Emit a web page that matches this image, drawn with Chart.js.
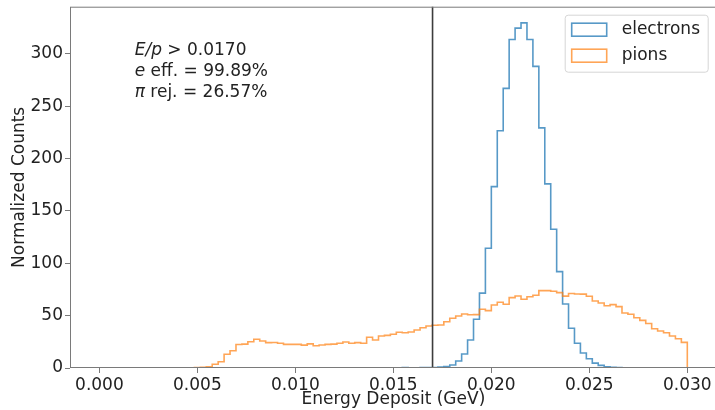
<!DOCTYPE html>
<html>
<head>
<meta charset="utf-8">
<script src="https://cdn.jsdelivr.net/npm/chart.js@4.4.1/dist/chart.umd.min.js"></script>
<style>
  html, body { margin: 0; padding: 0; background: #fff; overflow: hidden; }
</style>
</head>
<body>
<canvas id="hist" width="720" height="410"></canvas>
<script>
// binning: equal-width bins between 0 and 0.03 GeV
const binLow = 0.0;
const binHigh = 0.03;
const nBins = 99;

// normalized counts per bin
const electrons = [
  0, 0, 0, 0, 0, 0, 0, 0, 0, 0,
  0, 0, 0, 0, 0, 0, 0, 0, 0, 0,
  0, 0, 0, 0, 0, 0, 0, 0, 0, 0,
  0, 0, 0, 0, 0, 0, 0, 0, 0, 0,
  0, 0, 0.3, 0.3, 0, 0, 0, 0.3, 0, 0,
  0, 0.5, 0, 0.3, 0.5, 0.5, 0.5, 0.8, 1.3, 2.9,
  6.7, 13.4, 26.8, 46.5, 71.5, 114.4, 173.2, 226.6, 267.0, 313.7,
  324.5, 329.6, 313.7, 288.0, 229.3, 175.8, 132.5, 92.0, 61.1, 38.0,
  23.6, 14.3, 8.9, 4.7, 2.5, 1.2, 0.6, 0.4, 0.3, 0.2,
  0.2, 0.1, 0.1, 0, 0, 0, 0, 0, 0
];
const pions = [
  0, 0, 0, 0, 0, 0, 0, 0, 0, 0,
  0, 0, 0, 0, 0.2, 0.3, 0.4, 0.6, 1.2, 3.6,
  6.0, 13.2, 16.5, 22.4, 22.8, 25.1, 27.4, 25.8, 24.2, 24.4,
  23.6, 22.6, 22.6, 22.6, 21.8, 23.0, 21.2, 22.0, 22.6, 22.8,
  23.6, 24.8, 23.6, 24.2, 23.6, 29.3, 26.8, 30.6, 31.2, 32.2,
  34.1, 33.7, 34.4, 36.3, 38.5, 40.1, 40.8, 41.1, 44.2, 47.5,
  49.7, 51.6, 50.8, 51.0, 56.1, 54.8, 60.2, 62.8, 60.9, 67.2,
  68.8, 65.6, 68.1, 69.5, 73.9, 73.9, 73.3, 72.0, 68.6, 71.2,
  70.7, 70.5, 68.5, 64.0, 62.0, 59.5, 60.5, 58.6, 52.5, 51.3,
  48.0, 45.5, 42.5, 37.5, 35.3, 33.7, 30.6, 28.0, 24.5
];

const xTicks = [0.000, 0.005, 0.010, 0.015, 0.020, 0.025, 0.030];
const yTicks = [0, 50, 100, 150, 200, 250, 300];

// E/p cut and its summary (segments: [text, italic])
const cutValue = 0.017;
const cutLines = [
  [['E/p', true], [' > 0.0170', false]],
  [['e', true], [' eff. = 99.89%', false]],
  [['π', true], [' rej. = 26.57%', false]]
];

const FONT = 'DejaVu Sans';
const TEXT = '#222';
const SPINE = '#7a7a7a';

// outline of a step histogram: one point per bin left edge holding that bin's
// count up to the next edge, then back down to zero at the last edge
function stepPoints(counts) {
  const w = (binHigh - binLow) / nBins;
  const pts = counts.map((c, i) => ({ x: binLow + i * w, y: c }));
  pts.push({ x: binHigh, y: 0 });
  return pts;
}

const overlay = {
  id: 'overlay',
  afterDatasetsDraw(chart) {
    const { ctx, chartArea: a, scales: { x } } = chart;
    ctx.save();
    // cut line
    const xc = x.getPixelForValue(cutValue);
    ctx.strokeStyle = '#3c3c3c';
    ctx.lineWidth = 1.6;
    ctx.beginPath();
    ctx.moveTo(xc, a.top);
    ctx.lineTo(xc, a.bottom);
    ctx.stroke();

    // axes frame
    ctx.strokeStyle = SPINE;
    ctx.lineWidth = 1;
    ctx.strokeRect(a.left + 0.5, a.top + 0.5, a.right - a.left - 1, a.bottom - a.top - 1);

    // cut summary text
    ctx.fillStyle = TEXT;
    ctx.textBaseline = 'middle';
    ctx.textAlign = 'left';
    const tx = a.left + 0.1 * (a.right - a.left);
    cutLines.forEach((segs, i) => {
      let cx = tx;
      const cy = a.top + 44 + i * 21;
      segs.forEach(([s, it]) => {
        ctx.font = (it ? 'oblique ' : '') + '17px "' + FONT + '"';
        ctx.fillText(s, cx, cy);
        cx += ctx.measureText(s).width;
      });
    });

    // legend
    const bw = 143, bh = 57;
    const bx = a.right - 9 - bw, by = a.top + 8;
    ctx.fillStyle = 'rgba(255,255,255,0.8)';
    ctx.strokeStyle = '#d6d6d6';
    ctx.lineWidth = 1;
    ctx.beginPath();
    ctx.roundRect(bx + 0.5, by + 0.5, bw, bh, 3);
    ctx.fill();
    ctx.stroke();
    ctx.font = '17px "' + FONT + '"';
    chart.data.datasets.forEach((ds, i) => {
      const cy = by + 15 + i * 26;
      ctx.strokeStyle = ds.borderColor;
      ctx.lineWidth = 1.6;
      ctx.strokeRect(bx + 7, cy - 6.5, 35, 13);
      ctx.fillStyle = TEXT;
      ctx.fillText(ds.label, bx + 57, cy);
    });
    ctx.restore();
  }
};

new Chart(document.getElementById('hist'), {
  type: 'line',
  data: {
    datasets: [
      {
        label: 'electrons',
        data: stepPoints(electrons),
        borderColor: 'rgba(31,119,180,0.75)',
        borderWidth: 1.6,
        stepped: 'before',
        pointRadius: 0,
        fill: false,
        order: 1
      },
      {
        label: 'pions',
        data: stepPoints(pions),
        borderColor: 'rgba(255,127,14,0.7)',
        borderWidth: 1.6,
        stepped: 'before',
        pointRadius: 0,
        fill: false,
        order: 0
      }
    ]
  },
  options: {
    responsive: false,
    animation: false,
    layout: { padding: { left: 0, right: 3.3, top: 6.7, bottom: 0 } },
    plugins: { legend: { display: false }, tooltip: { enabled: false } },
    scales: {
      x: {
        type: 'linear',
        min: -0.0015,
        max: 0.0315,
        afterBuildTicks: s => { s.ticks = xTicks.map(v => ({ value: v })); },
        afterFit: s => { s.height = 42; s.paddingLeft = 0; s.paddingRight = 0; },
        ticks: {
          autoSkip: false,
          maxRotation: 0,
          padding: 2,
          color: TEXT,
          font: { family: FONT, size: 17 },
          callback: v => v.toFixed(3)
        },
        grid: { drawOnChartArea: false, drawTicks: true, tickLength: 5, tickColor: SPINE },
        border: { display: false },
        title: {
          display: true,
          text: 'Energy Deposit (GeV)',
          color: TEXT,
          font: { family: FONT, size: 17 },
          padding: { top: 0, bottom: 0 }
        }
      },
      y: {
        min: 0,
        max: 345,
        afterBuildTicks: s => { s.ticks = yTicks.map(v => ({ value: v })); },
        afterFit: s => { s.width = 70; s.paddingTop = 0; s.paddingBottom = 0; },
        ticks: {
          padding: 2,
          color: TEXT,
          font: { family: FONT, size: 17 }
        },
        grid: { drawOnChartArea: false, drawTicks: true, tickLength: 5, tickColor: SPINE },
        border: { display: false },
        title: {
          display: true,
          text: 'Normalized Counts',
          color: TEXT,
          font: { family: FONT, size: 17 },
          padding: { top: 9, bottom: 0 }
        }
      }
    }
  },
  plugins: [overlay]
});
</script>
</body>
</html>
